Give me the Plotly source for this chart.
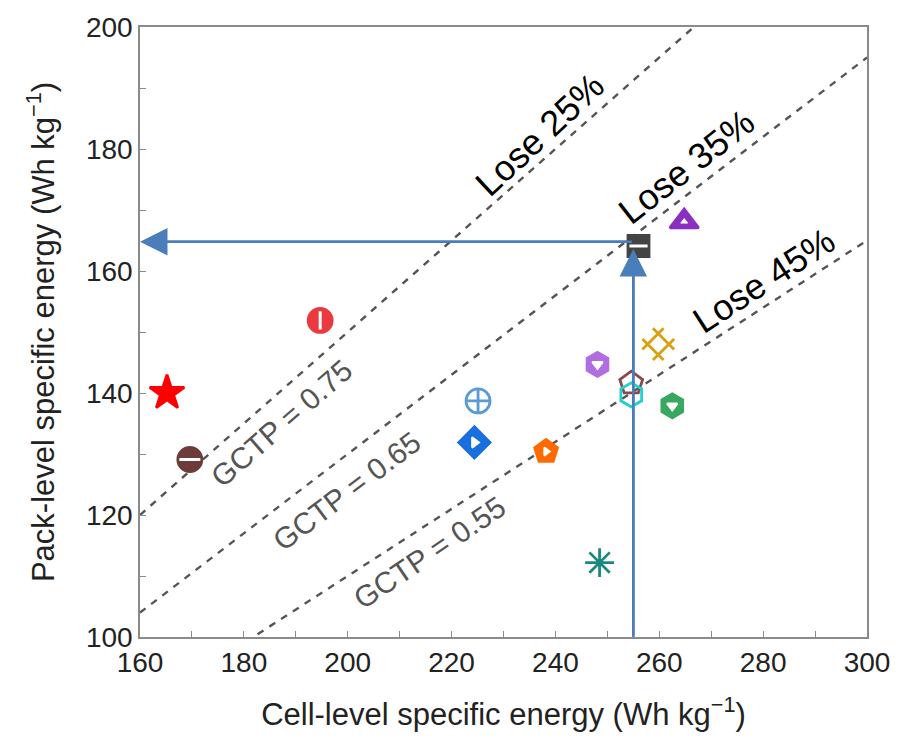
import plotly.graph_objects as go

# ---- data ----
cell_energy = [165.2, 169.6, 194.7, 225.1, 224.4, 238.2, 248.1, 254.6, 254.6, 256.0, 264.8, 259.8, 262.5, 248.5]
pack_energy = [140.0, 129.1, 151.9, 138.7, 131.9, 130.4, 144.7, 141.6, 139.7, 164.1, 168.1, 148.0, 137.9, 112.2]
symbols = ["star", "circle", "circle", "circle-cross-open", "diamond", "pentagon", "hexagon",
           "pentagon-open", "hexagon-open", "square", "triangle-up", "hash-open", "hexagon", "asterisk-open"]
colors = ["#ff0000", "#6e3b3b", "#ea3a40", "#5b9bd5", "#1a6fdf", "#ff6a00", "#b06ee0",
          "#8b4a4a", "#22d0d0", "#444444", "#8a2fc0", "#d9a010", "#38a860", "#1a8a80"]
sizes = [26, 24, 24, 24, 24, 24, 24, 24, 24, 21, 25, 30, 24, 24]
angles = [0, 0, 0, 0, 0, 0, 0, 0, 0, 0, 0, 45, 0, 0]

# white inner details (index, symbol, size)
detail_idx = [1, 2, 4, 6, 9, 10, 12, 5]
detail_sym = ["line-ew", "line-ns", "triangle-right", "triangle-down", "line-ew", "triangle-up", "triangle-down", "triangle-right"]
detail_size = [15, 13, 9, 9, 13, 6, 9, 7]

gctp = [0.75, 0.65, 0.55]
gctp_x = [160, 300]
gctp_labels = ["GCTP = 0.75", "GCTP = 0.65", "GCTP = 0.55"]
gctp_lab_x = [187.2, 199.7, 215.8]
gctp_lab_y = [135.0, 123.9, 113.8]
gctp_lab_ang = [-41, -37, -34]

lose_labels = ["Lose 25%", "Lose 35%", "Lose 45%"]
lose_x = [237.0, 265.2, 280.1]
lose_y = [182.3, 177.2, 158.4]
lose_ang = [-43, -38, -33]

target_cell = 255
target_pack = 164.8
arrow_tip_pack = 163.6
x_min, x_max = 160, 300
y_min, y_max = 100, 200

FONT = "Liberation Sans, Arial, Helvetica"

fig = go.Figure()

# GCTP dashed lines
for g in gctp:
    fig.add_trace(go.Scatter(x=gctp_x, y=[g * v for v in gctp_x], mode="lines",
                             line=dict(color="#555555", width=2.4, dash="7px,7px"),
                             hoverinfo="skip", showlegend=False))

# vertical/horizontal guide lines
fig.add_trace(go.Scatter(x=[target_cell, target_cell], y=[y_min - 1, arrow_tip_pack - 2],
                         mode="lines", line=dict(color="#4a7ebb", width=2.5),
                         cliponaxis=False, showlegend=False, hoverinfo="skip"))
fig.add_trace(go.Scatter(x=[target_cell, x_min + 2], y=[target_pack, target_pack],
                         mode="lines", line=dict(color="#4a7ebb", width=2.5),
                         showlegend=False, hoverinfo="skip"))

# data markers
fig.add_trace(go.Scatter(
    x=cell_energy, y=pack_energy, mode="markers",
    marker=dict(symbol=symbols, color=colors, size=sizes, angle=angles, opacity=1,
                line=dict(color=colors, width=2.8)),
    showlegend=False))

# white details
fig.add_trace(go.Scatter(
    x=[cell_energy[i] for i in detail_idx], y=[pack_energy[i] for i in detail_idx],
    mode="markers",
    marker=dict(symbol=detail_sym, color="white", size=detail_size, opacity=1,
                line=dict(color="white", width=[3, 3, 2, 2, 3, 1, 2, 2])),
    showlegend=False, hoverinfo="skip"))

# arrows
fig.add_annotation(x=x_min, y=target_pack, ax=target_cell, ay=target_pack,
                   xref="x", yref="y", axref="x", ayref="y", text="",
                   showarrow=True, arrowhead=2, arrowsize=2.2, arrowwidth=2.5,
                   arrowcolor="#4a7ebb")
fig.add_annotation(x=target_cell, y=arrow_tip_pack, ax=target_cell, ay=y_min,
                   xref="x", yref="y", axref="x", ayref="y", text="",
                   showarrow=True, arrowhead=2, arrowsize=2.2, arrowwidth=2.5,
                   arrowcolor="#4a7ebb")

for t, x, y, a in zip(gctp_labels, gctp_lab_x, gctp_lab_y, gctp_lab_ang):
    fig.add_annotation(x=x, y=y, text=t, showarrow=False, textangle=a,
                       font=dict(size=30, color="#555555", family=FONT))
for t, x, y, a in zip(lose_labels, lose_x, lose_y, lose_ang):
    fig.add_annotation(x=x, y=y, text=t, showarrow=False, textangle=a,
                       font=dict(size=36, color="black", family=FONT))

axis_common = dict(showline=True, linecolor="#8a8a8a", linewidth=1.5, mirror=True,
                   ticks="inside", ticklen=6, tickcolor="#8a8a8a", tickwidth=1.2,
                   showgrid=False, zeroline=False,
                   tickfont=dict(size=28, color="#222222", family=FONT),
                   minor=dict(ticks="inside", ticklen=6, tickcolor="#8a8a8a", dtick=10))

fig.update_xaxes(range=[x_min, x_max], dtick=20, tick0=160,
                 title=dict(text="Cell-level specific energy (Wh kg<sup>\u22121</sup>)",
                            font=dict(size=31, color="#222222", family=FONT),
                            standoff=26),
                 **axis_common)
fig.update_yaxes(range=[y_min, y_max], dtick=20, tick0=100,
                 title=dict(text="Pack-level specific energy (Wh kg<sup>\u22121</sup>)",
                            font=dict(size=31, color="#222222", family=FONT),
                            standoff=22),
                 **axis_common)

fig.update_layout(width=902, height=742, margin=dict(l=140, r=31, t=22, b=105),
                  plot_bgcolor="white", paper_bgcolor="white",
                  font=dict(family=FONT))

fig.write_html("out.html")
